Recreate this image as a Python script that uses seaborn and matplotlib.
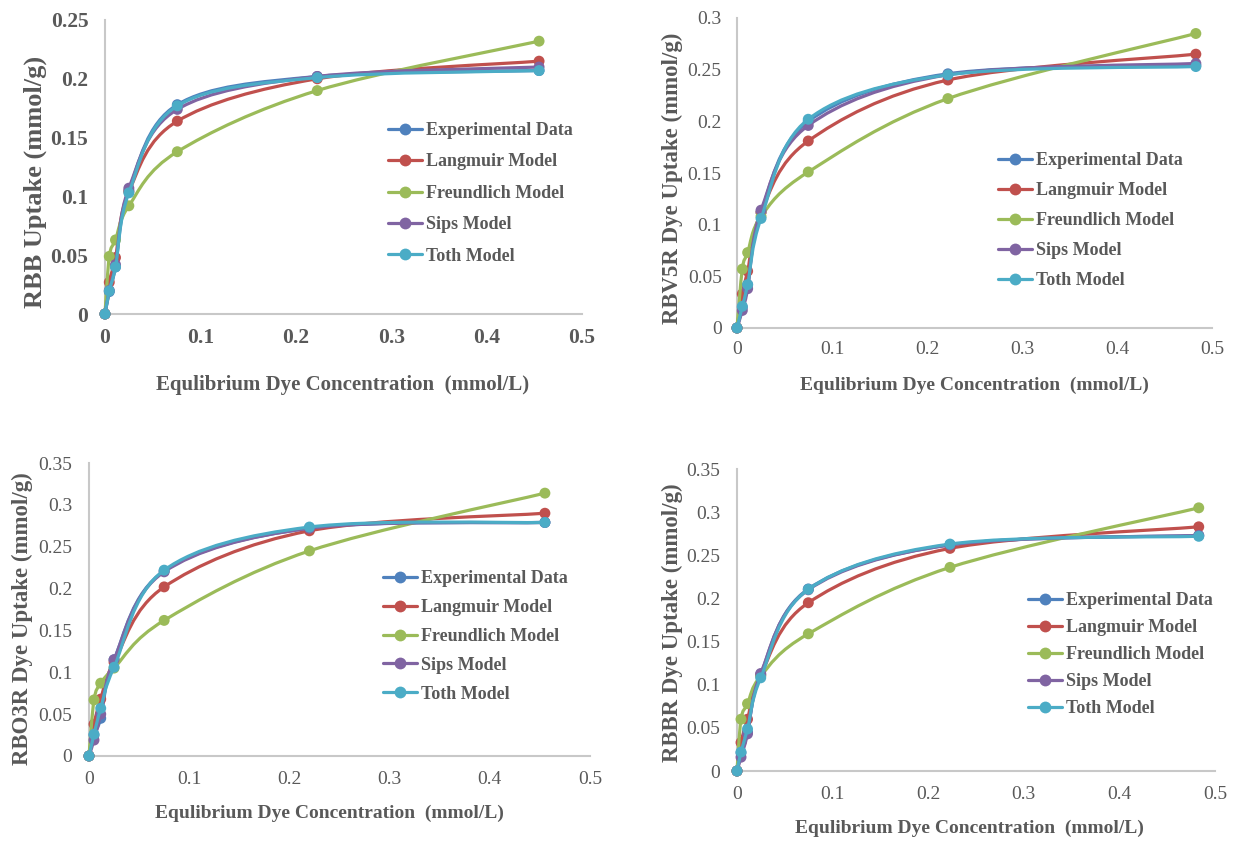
import numpy as np
import pandas as pd
import matplotlib
matplotlib.use("Agg")
import matplotlib.pyplot as plt
from matplotlib.path import Path
from matplotlib.patches import PathPatch
from matplotlib.lines import Line2D
from matplotlib.ticker import FuncFormatter, MultipleLocator
import seaborn as sns

# ---------------- data ----------------
series_names = ["Experimental Data", "Langmuir Model", "Freundlich Model", "Sips Model", "Toth Model"]
series_colors = ["#4F81BD", "#C0504D", "#9BBB59", "#8064A2", "#4BACC6"]

# Panel 1: RBB
rbb_x = [0, 0.0045, 0.011, 0.025, 0.0758, 0.2225, 0.455]
rbb_exp = [0, 0.019, 0.040, 0.105, 0.178, 0.202, 0.207]
rbb_lang = [0, 0.027, 0.048, 0.104, 0.164, 0.200, 0.215]
rbb_freu = [0, 0.049, 0.063, 0.092, 0.138, 0.190, 0.232]
rbb_sips = [0, 0.020, 0.042, 0.107, 0.174, 0.202, 0.210]
rbb_toth = [0, 0.0196, 0.040, 0.103, 0.177, 0.201, 0.207]

# Panel 2: RBV5R
rbv_x = [0, 0.0056, 0.0112, 0.0253, 0.075, 0.222, 0.483]
rbv_exp = [0, 0.020, 0.042, 0.112, 0.200, 0.246, 0.254]
rbv_lang = [0, 0.033, 0.055, 0.112, 0.181, 0.240, 0.265]
rbv_freu = [0, 0.057, 0.073, 0.108, 0.151, 0.222, 0.285]
rbv_sips = [0, 0.017, 0.038, 0.114, 0.196, 0.245, 0.256]
rbv_toth = [0, 0.021, 0.042, 0.106, 0.202, 0.245, 0.253]

# Panel 3: RBO3R
rbo_x = [0, 0.005, 0.0117, 0.025, 0.075, 0.22, 0.455]
rbo_exp = [0, 0.025, 0.045, 0.115, 0.221, 0.272, 0.279]
rbo_lang = [0, 0.038, 0.068, 0.112, 0.202, 0.269, 0.290]
rbo_freu = [0, 0.067, 0.087, 0.105, 0.162, 0.245, 0.314]
rbo_sips = [0, 0.019, 0.050, 0.115, 0.220, 0.272, 0.279]
rbo_toth = [0, 0.026, 0.057, 0.106, 0.222, 0.2735, 0.279]

# Panel 4: RBBR
rbbr_x = [0, 0.0042, 0.011, 0.0248, 0.0746, 0.2228, 0.483]
rbbr_exp = [0, 0.021, 0.045, 0.112, 0.211, 0.262, 0.273]
rbbr_lang = [0, 0.033, 0.060, 0.111, 0.195, 0.258, 0.283]
rbbr_freu = [0, 0.060, 0.078, 0.110, 0.159, 0.236, 0.305]
rbbr_sips = [0, 0.016, 0.043, 0.113, 0.210, 0.262, 0.273]
rbbr_toth = [0, 0.022, 0.0487, 0.108, 0.2105, 0.263, 0.272]

x_label = "Equlibrium Dye Concentration  (mmol/L)"
y_labels = ["RBB Uptake (mmol/g)", "RBV5R Dye Uptake (mmol/g)",
            "RBO3R Dye Uptake (mmol/g)", "RBBR Dye Uptake (mmol/g)"]
y_max = [0.25, 0.3, 0.35, 0.35]
y_step = [0.05, 0.05, 0.05, 0.05]

panels = [
    (rbb_x, [rbb_exp, rbb_lang, rbb_freu, rbb_sips, rbb_toth]),
    (rbv_x, [rbv_exp, rbv_lang, rbv_freu, rbv_sips, rbv_toth]),
    (rbo_x, [rbo_exp, rbo_lang, rbo_freu, rbo_sips, rbo_toth]),
    (rbbr_x, [rbbr_exp, rbbr_lang, rbbr_freu, rbbr_sips, rbbr_toth]),
]

# ---------------- style ----------------
sns.set_theme(style="white")
plt.rcParams["font.family"] = ["Liberation Serif", "DejaVu Serif"]
TXT = "#595959"
SPINE = "#c8c8c8"

W, H = 1236, 841
fig = plt.figure(figsize=(W / 100, H / 100), dpi=100)
fig.patch.set_facecolor("white")

def px_axes(l, r, t, b):
    return [l / W, 1 - b / H, (r - l) / W, (b - t) / H]

axes_px = [
    (105, 582, 20, 314),
    (737, 1212, 18, 328),
    (89, 590, 463, 756),
    (737, 1215, 469, 771),
]
# layout settings per panel (pixels)
xlab_off = [71, 57, 57, 57]
xlab_cx = [0.497, 0.50, 0.48, 0.487]
ylab_off = [70, 65, 67, 65]
ylab_cy = [0.449, 0.484, 0.468, 0.49]
ylab_size = [19, 16.5, 16.5, 16.5]
xlab_size = [15, 14, 14, 14]
tick_size = [15.5, 14, 14, 14]
tick_bold = [True, False, False, False]
xtick_pad = [10, 9, 11, 11]
ytick_pad = [12, 11, 12, 12]
leg_anchor = [(388, 122), (998, 152), (383, 570), (1028, 592)]
leg_spacing = [0.8, 0.72, 0.66, 0.56]


def smooth_path(ax, xs, ys):
    """Excel-like smoothed line (Catmull-Rom Bezier) in axes coordinates."""
    pts = ax.transLimits.transform(np.column_stack([xs, ys]))
    n = len(pts)
    verts = [pts[0]]
    codes = [Path.MOVETO]
    for i in range(n - 1):
        p0 = pts[i - 1] if i > 0 else pts[i]
        p1 = pts[i]
        p2 = pts[i + 1]
        p3 = pts[i + 2] if i + 2 < n else pts[i + 1]
        c1 = p1 + (p2 - p0) / 6.0
        c2 = p2 - (p3 - p1) / 6.0
        verts += [c1, c2, p2]
        codes += [Path.CURVE4] * 3
    return Path(verts, codes)


for k, (xs, ys_list) in enumerate(panels):
    ax = fig.add_axes(px_axes(*axes_px[k]))
    l, r, t, b = axes_px[k]
    aw, ah = r - l, b - t
    ax.set_xlim(0, 0.5)
    ax.set_ylim(0, y_max[k])

    rows = []
    for name, ys in zip(series_names, ys_list):
        for xv, yv in zip(xs, ys):
            rows.append({"x": xv, "y": yv, "series": name})
    df = pd.DataFrame(rows)

    for j, name in enumerate(series_names):
        sub = df[df["series"] == name]
        path = smooth_path(ax, sub["x"].to_numpy(), sub["y"].to_numpy())
        patch = PathPatch(path, transform=ax.transAxes, facecolor="none",
                          edgecolor=series_colors[j], lw=2.3, zorder=2 + 2 * j,
                          clip_on=False, capstyle="round", joinstyle="round")
        ax.add_patch(patch)
        sns.scatterplot(data=sub, x="x", y="y", ax=ax, color=series_colors[j],
                        s=62, edgecolor="none", zorder=3 + 2 * j,
                        clip_on=False, legend=False)

    ax.xaxis.set_major_locator(MultipleLocator(0.1))
    ax.yaxis.set_major_locator(MultipleLocator(y_step[k]))
    fmt = FuncFormatter(lambda v, p: f"{round(v, 4):g}")
    ax.xaxis.set_major_formatter(fmt)
    ax.yaxis.set_major_formatter(fmt)

    for s in ["top", "right"]:
        ax.spines[s].set_visible(False)
    for s in ["left", "bottom"]:
        ax.spines[s].set_color(SPINE)
        ax.spines[s].set_linewidth(1.5)
    ax.tick_params(axis="x", length=0, pad=xtick_pad[k], labelsize=tick_size[k], labelcolor=TXT)
    ax.tick_params(axis="y", length=0, pad=ytick_pad[k], labelsize=tick_size[k], labelcolor=TXT)
    for lab in ax.get_xticklabels() + ax.get_yticklabels():
        lab.set_fontweight("bold" if tick_bold[k] else "normal")

    ax.set_xlabel(x_label, fontsize=xlab_size[k], fontweight="bold", color=TXT)
    ax.set_ylabel(y_labels[k], fontsize=ylab_size[k], fontweight="bold", color=TXT)
    ax.xaxis.label.set_va("center")
    ax.yaxis.label.set_va("center")
    ax.xaxis.set_label_coords(xlab_cx[k], -xlab_off[k] / ah)
    ax.yaxis.set_label_coords(-ylab_off[k] / aw, ylab_cy[k])

    handles = [Line2D([0], [0], color=c, lw=2.3, marker="o", markersize=8.5,
                      markeredgewidth=0) for c in series_colors]
    ax_, ay_ = leg_anchor[k]
    leg = ax.legend(handles, series_names, loc="upper left",
                    bbox_to_anchor=(ax_ / W, 1 - ay_ / H), bbox_transform=fig.transFigure,
                    frameon=False, borderaxespad=0, borderpad=0, handlelength=1.9,
                    handletextpad=0.2, labelspacing=leg_spacing[k],
                    prop={"family": ["Liberation Serif"], "weight": "bold", "size": 13})
    for txt in leg.get_texts():
        txt.set_color(TXT)

fig.savefig("out.png", dpi=100, facecolor="white")
